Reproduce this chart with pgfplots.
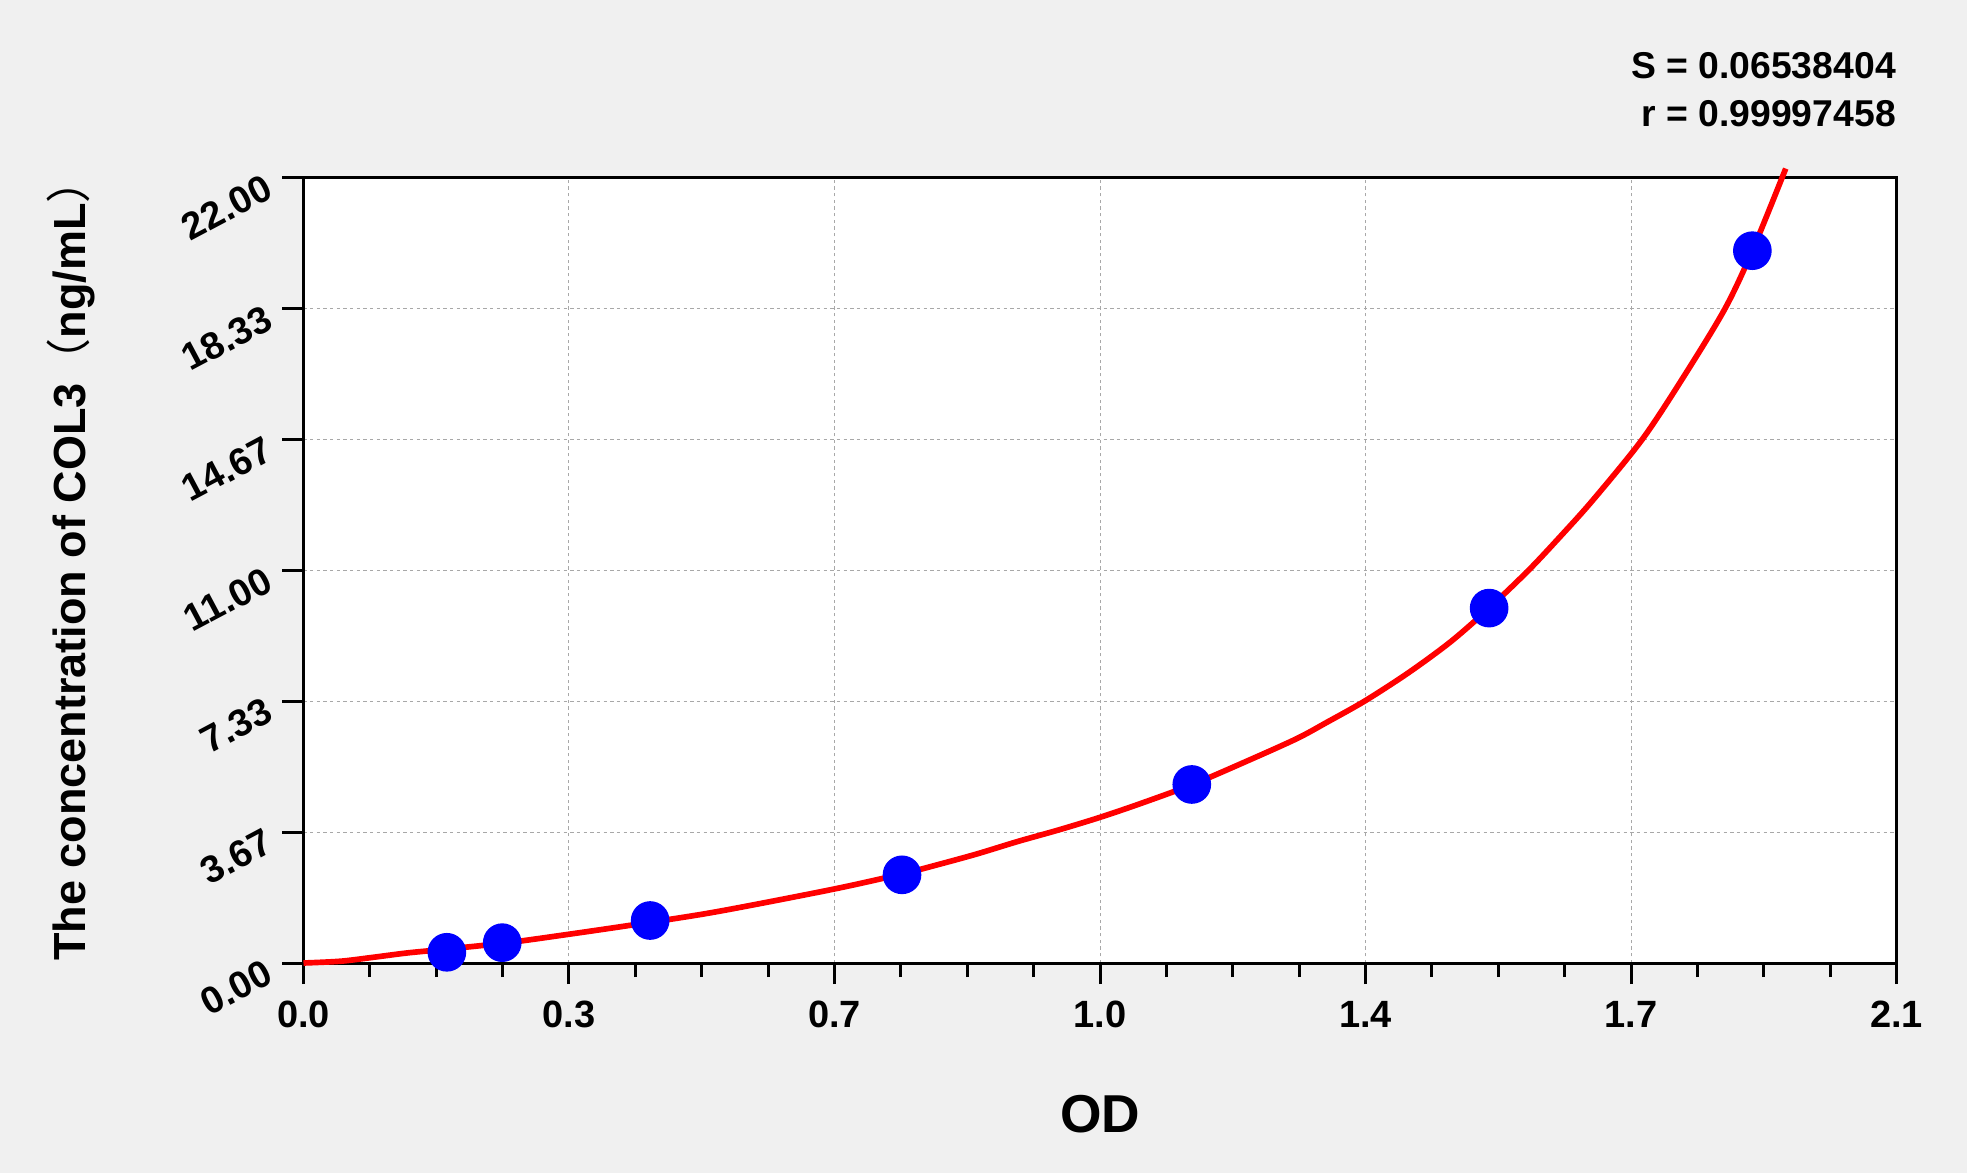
\documentclass[border=0pt]{standalone}
\usepackage{fontspec}
\setmainfont{Liberation Sans}
\newfontfamily\cjk{Noto Sans CJK SC}
\usepackage{pgfplots}
\pgfplotsset{compat=1.18}
\definecolor{bg}{HTML}{F0F0F0}
\definecolor{gridgray}{HTML}{A8A8A8}

% standards (OD, concentration) and the fitted curve
\pgfplotstableread{
x y
0.189 0.30
0.262 0.57
0.457 1.19
0.789 2.47
1.171 5.00
1.563 9.94
1.910 19.95
}\standards

\pgfplotstableread{
x y
0.000 0.00
0.049 0.05
0.092 0.16
0.136 0.28
0.179 0.37
0.266 0.56
0.348 0.80
0.435 1.07
0.543 1.43
0.699 2.07
0.790 2.50
0.832 2.73
0.887 3.05
0.941 3.40
0.996 3.73
1.050 4.08
1.104 4.47
1.172 5.00
1.241 5.63
1.309 6.28
1.349 6.74
1.400 7.35
1.458 8.15
1.513 9.01
1.563 9.94
1.615 11.00
1.657 11.95
1.700 12.97
1.765 14.67
1.820 16.44
1.874 18.33
1.910 19.95
1.954 22.25
}\fitcurve

\begin{document}
\begin{tikzpicture}
\fill[bg] (0,0) rectangle (590.1pt,351.9pt);
\begin{axis}[
    name=ax,
    at={(91.05pt,63pt)}, anchor=south west,
    scale only axis,
    width=477.9pt, height=235.65pt,
    xmin=0, xmax=2.1, ymin=0, ymax=22,
    axis background/.style={fill=white},
    axis line style={line width=0.9pt},
    tick align=outside, tick pos=left,
    major tick length=6.3pt, minor tick length=4.2pt,
    tick style={black, line width=0.9pt},
    xtick={0,0.35,0.7,1.05,1.4,1.75,2.1},
    xticklabels={0.0,0.3,0.7,1.0,1.4,1.7,2.1},
    ytick={0,3.6667,7.3333,11,14.6667,18.3333,22},
    yticklabels={0.00,3.67,7.33,11.00,14.67,18.33,22.00},
    minor x tick num=3, minor y tick num=3,
    grid=major,
    major grid style={gridgray, line width=0.3pt, dash pattern=on 1pt off 1pt},
    ticklabel style={font=\fontsize{11.4}{13}\selectfont\bfseries},
    xticklabel style={yshift=-1.7pt},
    yticklabel style={rotate=28, anchor=east, xshift=-3.5pt, inner sep=1pt},
    clip=false,
]
\addplot[only marks, mark=*, mark size=5.6pt, color=blue] table {\standards};
\addplot[red, line width=1.7pt, smooth] table {\fitcurve};
\end{axis}

\node[rotate=90, anchor=base, font=\fontsize{13.5}{16}\selectfont\bfseries]
    at (25.5pt,184pt) {The concentration of COL3{\cjk\mdseries （}ng/mL{\cjk\mdseries ）}};
\node[anchor=base, font=\fontsize{16}{19}\selectfont\bfseries] at (330pt,12.3pt) {OD};
\node[anchor=base east, inner sep=0pt, font=\fontsize{11.2}{13}\selectfont\bfseries]
    at (568.95pt,328.4pt) {S = 0.06538404};
\node[anchor=base east, inner sep=0pt, font=\fontsize{11.2}{13}\selectfont\bfseries]
    at (568.95pt,313.9pt) {r = 0.99997458};

\pgfresetboundingbox
\useasboundingbox (0,0) rectangle (590.1pt,351.9pt);
\end{tikzpicture}
\end{document}
